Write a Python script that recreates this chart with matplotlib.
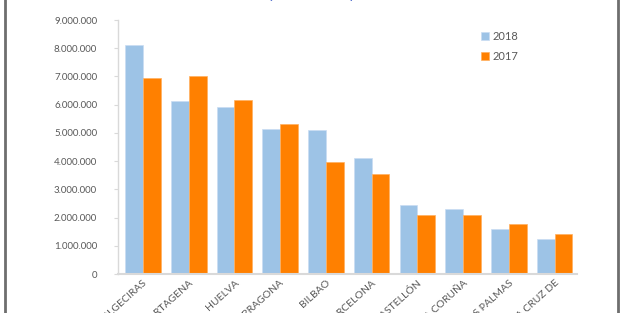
import matplotlib.pyplot as plt
from matplotlib.lines import Line2D
from matplotlib.ticker import FuncFormatter
import numpy as np

puertos = ['ALGECIRAS', 'CARTAGENA', 'HUELVA', 'TARRAGONA', 'BILBAO', 'BARCELONA',
           'CASTELLÓN', 'A CORUÑA', 'LAS PALMAS', 'SANTA CRUZ DE']
t2018 = [8130000, 6130000, 5930000, 5130000, 5100000, 4110000, 2440000, 2320000, 1600000, 1250000]
t2017 = [6930000, 7010000, 6180000, 5300000, 3980000, 3560000, 2080000, 2080000, 1770000, 1400000]

plt.rcParams['font.family'] = ['Lato', 'DejaVu Sans']

fig = plt.figure(figsize=(6.26, 3.13), dpi=100)
ax = fig.add_axes([0.1885, 0.1246, 0.7332, 0.8114])

x = np.arange(len(puertos))
w = 0.39
ax.bar(x - w / 2, t2018, w, color='#9DC3E6', edgecolor='#C9DDF2', linewidth=0.5, label='2018')
ax.bar(x + w / 2, t2017, w, color='#FF8000', edgecolor='#FFB060', linewidth=0.5, label='2017')

ax.set_xlim(-0.547, 9.49)
ax.set_ylim(0, 9000000)
ax.set_yticks(np.arange(0, 9000001, 1000000))
ax.yaxis.set_major_formatter(FuncFormatter(lambda v, p: f'{int(v):,}'.replace(',', '.')))

for s in ['top', 'right']:
    ax.spines[s].set_visible(False)
ax.spines['left'].set_color('#D9D9D9')
ax.spines['bottom'].set_color('#D9D9D9')
ax.spines['left'].set_linewidth(1)
ax.spines['bottom'].set_linewidth(1.5)
ax.tick_params(axis='y', colors='#D9D9D9', labelcolor='#595959', labelsize=7, length=3, pad=12)
ax.tick_params(axis='x', length=0, labelcolor='#595959', labelsize=7.5, pad=3)
ax.set_xticks(x)
ax.set_xticklabels(puertos, rotation=42, ha='right', rotation_mode='anchor')

leg = ax.legend(loc='upper left', bbox_to_anchor=(0.77, 0.997), frameon=False, fontsize=8,
                handlelength=0.7, handleheight=0.7, handletextpad=0.3, labelspacing=0.85,
                labelcolor='#595959')

# titulo cortado arriba
fig.text(0.497, 1.005, '(toneladas)', ha='center', va='baseline', fontsize=13,
         fontweight='bold', color='#2448C0')

# marco del recorte
fig.add_artist(Line2D([5 / 626, 5 / 626], [0, 1], color='#6E6E6E', lw=2, transform=fig.transFigure))
fig.add_artist(Line2D([618 / 626, 618 / 626], [0, 1], color='#6E6E6E', lw=2, transform=fig.transFigure))

fig.savefig('out.png', dpi=100)
plt.close()
